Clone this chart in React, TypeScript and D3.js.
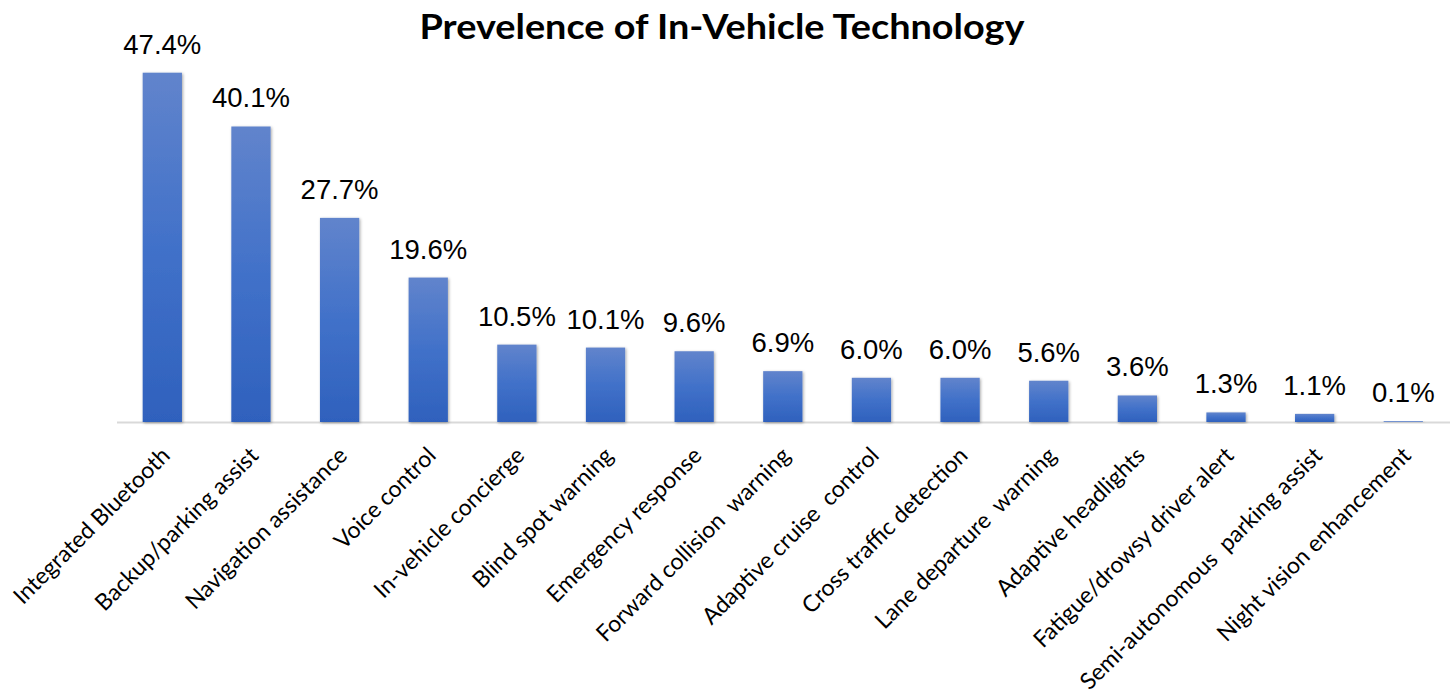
import React from "react";
import * as d3 from "d3";

const categories = [
  "Integrated Bluetooth",
  "Backup/parking assist",
  "Navigation assistance",
  "Voice control",
  "In-vehicle concierge",
  "Blind spot warning",
  "Emergency response",
  "Forward collision  warning",
  "Adaptive cruise  control",
  "Cross traffic detection",
  "Lane departure  warning",
  "Adaptive headlights",
  "Fatigue/drowsy driver alert",
  "Semi-autonomous  parking assist",
  "Night vision enhancement",
];
const values = [47.4, 40.1, 27.7, 19.6, 10.5, 10.1, 9.6, 6.9, 6.0, 6.0, 5.6, 3.6, 1.3, 1.1, 0.1];
const title = "Prevelence of In-Vehicle Technology";

const W = 1453;
const H = 694;
const baseY = 422;

export default function App() {
  const x = d3
    .scaleBand<string>()
    .domain(categories)
    .range([118, 1447.6])
    .paddingInner(0.557)
    .paddingOuter(0.2785);
  const y = d3.scaleLinear().domain([0, 47.4]).range([baseY, 72.7]);

  return (
    <svg
      width={W}
      height={H}
      style={{ position: "absolute", left: 0, top: 0, background: "#fff" }}
    >
      <defs>
        <linearGradient id="barGrad" x1="0" y1="0" x2="0" y2="1">
          <stop offset="0%" stopColor="#6184cc" />
          <stop offset="50%" stopColor="#4171c9" />
          <stop offset="100%" stopColor="#2f61bd" />
        </linearGradient>
        <filter id="shadow" x="-30%" y="-10%" width="160%" height="130%">
          <feDropShadow dx="1" dy="1" stdDeviation="1.5" floodColor="#000" floodOpacity="0.35" />
        </filter>
      </defs>
      <text
        x={722}
        y={39}
        textAnchor="middle"
        fontFamily="Lato, 'Open Sans', sans-serif"
        fontWeight="bold"
        fontSize={35}
        textLength={605}
        lengthAdjust="spacingAndGlyphs"
        fill="#000"
      >
        {title}
      </text>
      <line x1={117} x2={1450} y1={baseY + 0.5} y2={baseY + 0.5} stroke="#d9d9d9" strokeWidth={2} />
      {categories.map((c, i) => {
        const bx = x(c)!;
        const bw = x.bandwidth();
        const top = y(values[i]);
        return (
          <g key={c}>
            <rect
              x={bx}
              y={top}
              width={bw}
              height={baseY - top}
              fill="url(#barGrad)"
              filter="url(#shadow)"
            />
            <text
              x={bx + bw / 2}
              y={top - 19}
              textAnchor="middle"
              fontFamily="'Liberation Sans', Arial, sans-serif"
              fontSize={27.5}
              fill="#000"
            >
              {values[i].toFixed(1) + "%"}
            </text>
            <text
              transform={`translate(${bx + bw / 2 + 9},${baseY + 35}) rotate(-45)`}
              textAnchor="end"
              fontFamily="Lato, 'Open Sans', sans-serif"
              fontSize={23}
              fill="#000"
              style={{ whiteSpace: "pre" }}
            >
              {c}
            </text>
          </g>
        );
      })}
    </svg>
  );
}
